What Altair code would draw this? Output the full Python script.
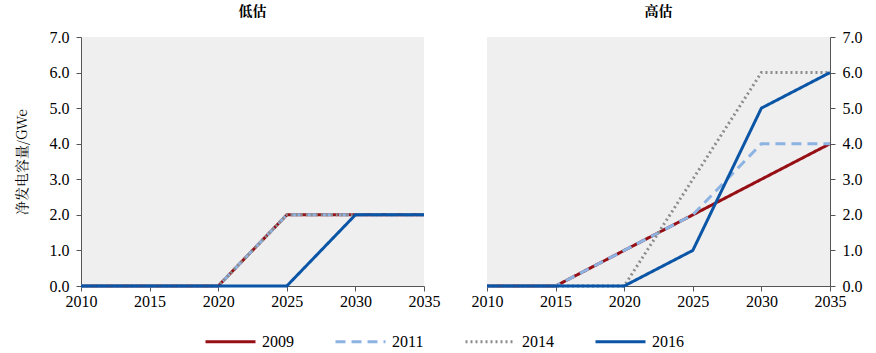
import altair as alt
import pandas as pd

years = [2010, 2015, 2020, 2025, 2030, 2035]
series = ["2009", "2011", "2014", "2016"]

low_2009 = [0, 0, 0, 2, 2, 2]
low_2011 = [0, 0, 0, 2, 2, 2]
low_2014 = [0, 0, 0, 2, 2, 2]
low_2016 = [0, 0, 0, 0, 2, 2]

high_2009 = [0, 0, 1, 2, 3, 4]
high_2011 = [0, 0, 1, 2, 4, 4]
high_2014 = [0, 0, 0, 3, 6, 6]
high_2016 = [0, 0, 0, 1, 5, 6]

colors = ["#960f14", "#8db3e2", "#8c8c8c", "#0b55a6"]
dashes = [[1, 0], [10, 6], [2, 3], [1, 0]]
widths = [3, 3, 2, 3]

def make_df(vals):
    rows = []
    for s, v in zip(series, vals):
        for yr, val in zip(years, v):
            rows.append({"year": yr, "value": val, "series": s, "ord": series.index(s)})
    return pd.DataFrame(rows)

df_low = make_df([low_2009, low_2011, low_2014, low_2016])
df_high = make_df([high_2009, high_2011, high_2014, high_2016])

FONT = "Liberation Serif, Times New Roman, serif"
CJK = "Noto Serif CJK SC, Noto Sans CJK SC, serif"

def panel(df, title, orient, ytitle):
    yaxis = alt.Axis(values=[0, 1, 2, 3, 4, 5, 6, 7], format=".1f", grid=False,
                     orient=orient, title=ytitle, titleFont=CJK, titleFontSize=14,
                     titleFontWeight="normal", titleColor="#000", titlePadding=20,
                     labelFont=FONT, labelFontSize=16, labelColor="#000",
                     domainColor="#555", tickColor="#555", tickSize=5, labelPadding=7)
    xaxis = alt.Axis(values=years, format="d", grid=False, title=None, labelFlush=False,
                     labelFont=FONT, labelFontSize=16, labelColor="#000",
                     domainColor="#555", tickColor="#555", tickSize=5, labelPadding=2)
    return alt.Chart(df, title=alt.Title(title, font=CJK, fontSize=14, fontWeight="bold",
                                         color="#000", offset=10)).mark_line().encode(
        x=alt.X("year:Q", scale=alt.Scale(domain=[2010, 2035], nice=False, zero=False), axis=xaxis),
        y=alt.Y("value:Q", scale=alt.Scale(domain=[0, 7], nice=False), axis=yaxis),
        color=alt.Color("series:N", scale=alt.Scale(domain=series, range=colors),
                        legend=alt.Legend(title=None, orient="none", legendX=123, legendY=278,
                                          direction="horizontal", columns=4,
                                          symbolType="stroke", symbolSize=2500,
                                          symbolStrokeWidth=3, labelFont=FONT,
                                          labelFontSize=16, labelColor="#000",
                                          columnPadding=35, labelOffset=5)),
        strokeDash=alt.StrokeDash("series:N", scale=alt.Scale(domain=series, range=dashes), legend=None),
        strokeWidth=alt.StrokeWidth("series:N", scale=alt.Scale(domain=series, range=widths), legend=None),
        order=alt.Order("ord:Q"),
    ).properties(width=343, height=249)

left = panel(df_low, "低估", "left", "净发电容量/GWe")
right = panel(df_high, "高估", "right", None)

chart = alt.hconcat(left, right, spacing=31).resolve_scale(
    color="shared", strokeDash="shared", strokeWidth="shared"
).properties(
    padding={"left": 15, "top": 5, "right": 5, "bottom": 5}
).configure(background="white").configure_view(fill="#efefef", strokeWidth=0)

chart.save("out.html", embed_options={"renderer": "svg", "actions": False})
